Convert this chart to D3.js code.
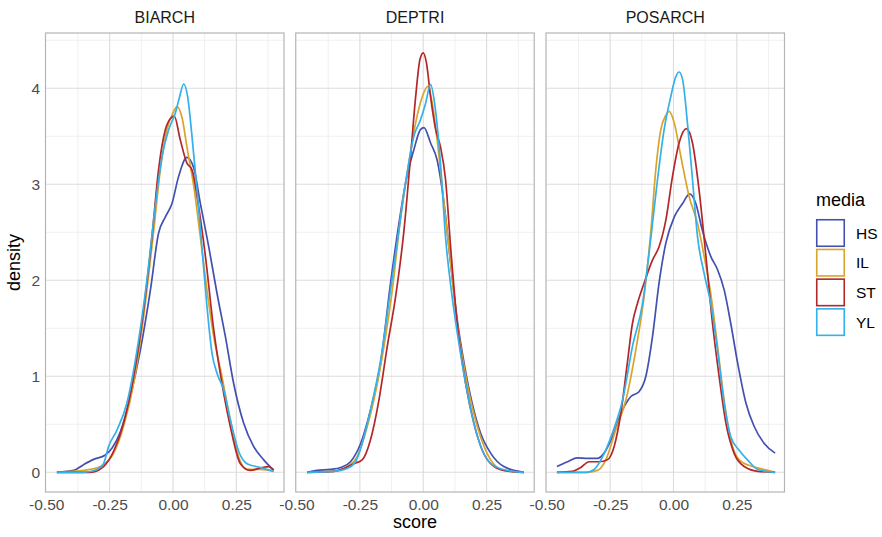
<!DOCTYPE html>
<html>
<head>
<meta charset="utf-8">
<script src="https://cdn.jsdelivr.net/npm/d3@7"></script>
<style>
  body { margin: 0; background: #fff; }
  text { font-family: "Liberation Sans", Arial, sans-serif; }
</style>
</head>
<body>
<div id="chart"></div>
<script>
// ---------- data ----------
var facets = ["BIARCH", "DEPTRI", "POSARCH"];
var media = ["HS", "IL", "ST", "YL"];
var mediaColors = ["#4350B0", "#D9A42A", "#B3262A", "#34B0EA"];
var xTicks = [-0.5, -0.25, 0, 0.25];
var xTickLabels = ["-0.50", "-0.25", "0.00", "0.25"];
var yTicks = [0, 1, 2, 3, 4];

// [score, density]
var biarchHS = [[-0.458,0],[-0.392,0.02],[-0.353,0.08],[-0.313,0.135],[-0.267,0.18],[-0.241,0.25],[-0.208,0.42],[-0.168,0.79],[-0.129,1.27],[-0.089,1.9],[-0.057,2.49],[-0.03,2.66],[-0.004,2.8],[0.022,3.08],[0.055,3.28],[0.082,3.17],[0.108,2.8],[0.141,2.35],[0.174,1.86],[0.207,1.41],[0.239,0.93],[0.279,0.51],[0.318,0.27],[0.358,0.13],[0.397,0.02]];
var biarchIL = [[-0.458,0],[-0.326,0.03],[-0.274,0.08],[-0.234,0.2],[-0.195,0.48],[-0.155,0.93],[-0.116,1.62],[-0.076,2.52],[-0.05,3.15],[-0.024,3.57],[0.003,3.76],[0.016,3.81],[0.036,3.69],[0.055,3.39],[0.082,2.98],[0.108,2.45],[0.134,1.9],[0.161,1.41],[0.193,1.0],[0.226,0.55],[0.259,0.16],[0.292,0.03],[0.345,0.03],[0.397,0.01]];
var biarchST = [[-0.458,0],[-0.326,0],[-0.274,0.06],[-0.234,0.22],[-0.195,0.51],[-0.155,1.0],[-0.116,1.69],[-0.083,2.45],[-0.057,3.15],[-0.03,3.57],[-0.004,3.7],[0.005,3.71],[0.029,3.46],[0.055,3.22],[0.075,3.15],[0.101,2.77],[0.128,2.25],[0.161,1.48],[0.193,0.93],[0.226,0.48],[0.266,0.09],[0.305,0.02],[0.351,0.05],[0.378,0.06],[0.397,0.025]];
var biarchYL = [[-0.458,0],[-0.353,0],[-0.3,0.03],[-0.274,0.09],[-0.254,0.27],[-0.221,0.44],[-0.182,0.72],[-0.142,1.27],[-0.103,2.0],[-0.07,2.77],[-0.043,3.29],[-0.017,3.57],[0.009,3.74],[0.026,3.91],[0.042,4.045],[0.058,3.91],[0.075,3.5],[0.095,2.94],[0.114,2.35],[0.134,1.73],[0.154,1.24],[0.174,1.03],[0.2,0.86],[0.226,0.55],[0.259,0.22],[0.292,0.09],[0.345,0.05],[0.397,0.01]];

var deptriHS = [[-0.458,0],[-0.418,0.02],[-0.366,0.03],[-0.326,0.05],[-0.287,0.11],[-0.247,0.3],[-0.208,0.65],[-0.168,1.14],[-0.129,1.97],[-0.096,2.59],[-0.07,3.01],[-0.037,3.36],[-0.011,3.57],[0.003,3.59],[0.029,3.43],[0.055,3.25],[0.082,2.8],[0.108,2.18],[0.134,1.59],[0.161,1.14],[0.193,0.72],[0.226,0.41],[0.266,0.2],[0.318,0.06],[0.397,0]];
var deptriIL = [[-0.458,0],[-0.353,0.01],[-0.3,0.06],[-0.261,0.16],[-0.228,0.41],[-0.195,0.75],[-0.155,1.31],[-0.122,1.9],[-0.089,2.66],[-0.057,3.22],[-0.03,3.64],[-0.004,3.91],[0.018,4.02],[0.036,3.84],[0.055,3.46],[0.082,2.8],[0.108,2.18],[0.134,1.55],[0.161,1.1],[0.193,0.68],[0.226,0.37],[0.266,0.13],[0.318,0.02],[0.397,0]];
var deptriST = [[-0.458,0],[-0.353,0.01],[-0.313,0.04],[-0.274,0.09],[-0.241,0.13],[-0.208,0.34],[-0.175,0.75],[-0.142,1.31],[-0.109,1.83],[-0.076,2.52],[-0.05,3.29],[-0.03,3.91],[-0.013,4.3],[0.0,4.37],[0.013,4.26],[0.029,3.91],[0.049,3.57],[0.068,3.39],[0.088,3.05],[0.108,2.35],[0.134,1.55],[0.167,0.93],[0.2,0.51],[0.233,0.23],[0.266,0.09],[0.318,0.02],[0.397,0]];
var deptriYL = [[-0.458,0],[-0.353,0.01],[-0.3,0.04],[-0.267,0.11],[-0.241,0.3],[-0.208,0.65],[-0.168,1.17],[-0.129,1.9],[-0.096,2.52],[-0.07,3.01],[-0.037,3.5],[-0.011,3.67],[0.009,3.84],[0.029,4.04],[0.045,3.84],[0.068,3.22],[0.088,2.45],[0.114,1.83],[0.141,1.34],[0.167,0.93],[0.2,0.51],[0.233,0.23],[0.272,0.08],[0.332,0.02],[0.397,0]];

var posarchHS = [[-0.46,0.06],[-0.418,0.11],[-0.379,0.15],[-0.339,0.146],[-0.3,0.146],[-0.274,0.2],[-0.241,0.37],[-0.201,0.65],[-0.168,0.79],[-0.136,0.84],[-0.109,1.0],[-0.083,1.41],[-0.057,1.97],[-0.03,2.39],[0.003,2.66],[0.036,2.8],[0.064,2.9],[0.088,2.8],[0.114,2.52],[0.147,2.25],[0.174,2.11],[0.2,1.9],[0.226,1.55],[0.253,1.14],[0.286,0.72],[0.318,0.48],[0.358,0.3],[0.401,0.2]];
var posarchIL = [[-0.46,0],[-0.346,0],[-0.3,0.02],[-0.267,0.13],[-0.228,0.44],[-0.188,0.75],[-0.149,1.27],[-0.116,1.83],[-0.089,2.52],[-0.07,3.15],[-0.05,3.57],[-0.03,3.72],[-0.017,3.76],[0.003,3.64],[0.029,3.29],[0.062,2.87],[0.095,2.59],[0.121,2.25],[0.147,1.86],[0.174,1.31],[0.2,0.75],[0.226,0.34],[0.259,0.13],[0.312,0.06],[0.364,0.025],[0.401,0]];
var posarchST = [[-0.46,0],[-0.399,0.01],[-0.366,0.05],[-0.333,0.11],[-0.293,0.11],[-0.261,0.13],[-0.234,0.27],[-0.208,0.61],[-0.182,1.14],[-0.162,1.55],[-0.142,1.76],[-0.116,1.97],[-0.083,2.21],[-0.057,2.35],[-0.03,2.63],[-0.004,3.08],[0.022,3.43],[0.051,3.58],[0.075,3.43],[0.101,2.94],[0.128,2.25],[0.154,1.55],[0.18,1.0],[0.207,0.51],[0.239,0.2],[0.279,0.06],[0.332,0.01],[0.401,0]];
var posarchYL = [[-0.46,0],[-0.346,0],[-0.313,0.03],[-0.28,0.16],[-0.241,0.41],[-0.201,0.75],[-0.162,1.31],[-0.122,1.76],[-0.089,2.45],[-0.063,3.05],[-0.037,3.57],[-0.011,3.91],[0.009,4.12],[0.022,4.17],[0.036,4.09],[0.055,3.64],[0.075,3.05],[0.095,2.45],[0.121,2.07],[0.147,1.76],[0.174,1.27],[0.2,0.72],[0.226,0.37],[0.259,0.23],[0.292,0.13],[0.332,0.03],[0.401,0]];

var curves = [
    [biarchHS, biarchIL, biarchST, biarchYL],
    [deptriHS, deptriIL, deptriST, deptriYL],
    [posarchHS, posarchIL, posarchST, posarchYL]
];

// ---------- layout ----------
var width = 882;
var height = 537;
var panelTop = 33;
var panelBottom = 492;
var panelW = 238.5;
var panelLefts = [45.5, 295.75, 546];

var svg = d3.select("#chart")
    .append("svg")
    .attr("width", width)
    .attr("height", height);

var x = d3.scaleLinear().domain([-0.503, 0.438]).range([0, panelW]);
var y = d3.scaleLinear().domain([-0.205, 4.576]).range([panelBottom, panelTop]);

var color = d3.scaleOrdinal().domain(media).range(mediaColors);

var line = d3.line()
    .x(function(d) { return x(d[0]); })
    .y(function(d) { return y(d[1]); })
    .curve(d3.curveMonotoneX);

var xMinor = [-0.375, -0.125, 0.125, 0.375];
var yMinor = [0.5, 1.5, 2.5, 3.5, 4.5];

facets.forEach(function(name, i) {
    var g = svg.append("g")
        .attr("transform", "translate(" + panelLefts[i] + ",0)");

    // minor grid
    g.selectAll(".vminor").data(xMinor).enter().append("line")
        .attr("x1", function(d) { return x(d); })
        .attr("x2", function(d) { return x(d); })
        .attr("y1", panelTop).attr("y2", panelBottom)
        .attr("stroke", "#ececec").attr("stroke-width", 0.8);
    g.selectAll(".hminor").data(yMinor).enter().append("line")
        .attr("x1", 0).attr("x2", panelW)
        .attr("y1", function(d) { return y(d); })
        .attr("y2", function(d) { return y(d); })
        .attr("stroke", "#ececec").attr("stroke-width", 0.8);

    // major grid
    g.selectAll(".vmajor").data(xTicks.filter(function(d) { return x(d) > 1; })).enter().append("line")
        .attr("x1", function(d) { return x(d); })
        .attr("x2", function(d) { return x(d); })
        .attr("y1", panelTop).attr("y2", panelBottom)
        .attr("stroke", "#dcdcdc").attr("stroke-width", 1.1);
    g.selectAll(".hmajor").data(yTicks).enter().append("line")
        .attr("x1", 0).attr("x2", panelW)
        .attr("y1", function(d) { return y(d); })
        .attr("y2", function(d) { return y(d); })
        .attr("stroke", "#dcdcdc").attr("stroke-width", 1.1);

    // density curves
    curves[i].forEach(function(pts, j) {
        g.append("path")
            .datum(pts)
            .attr("d", line)
            .attr("fill", "none")
            .attr("stroke", color(media[j]))
            .attr("stroke-width", 1.7);
    });

    // panel border
    g.append("rect")
        .attr("x", 0).attr("y", panelTop)
        .attr("width", panelW).attr("height", panelBottom - panelTop)
        .attr("fill", "none")
        .attr("stroke", "#b5b5b5").attr("stroke-width", 1.2);

    // strip title
    g.append("text")
        .attr("x", panelW / 2).attr("y", 23)
        .attr("text-anchor", "middle")
        .attr("font-size", 16)
        .attr("fill", "#1a1a1a")
        .text(name);

    // bottom axis
    var xAxis = d3.axisBottom(x).tickValues(xTicks)
        .tickFormat(function(d, k) { return xTickLabels[k]; })
        .tickSize(0).tickPadding(7);
    var ax = g.append("g")
        .attr("transform", "translate(0," + panelBottom + ")")
        .call(xAxis);
    ax.select(".domain").remove();
    ax.selectAll("line").remove();
    ax.selectAll("text")
        .attr("font-size", 15.5)
        .attr("fill", "#4d4d4d");
});

// left axis only on the first panel
var yAxis = d3.axisLeft(y).tickValues(yTicks).tickFormat(d3.format("d"))
    .tickSize(0).tickPadding(5.5);
var ay = svg.append("g")
    .attr("transform", "translate(" + panelLefts[0] + ",0)")
    .call(yAxis);
ay.select(".domain").remove();
ay.selectAll("line").remove();
ay.selectAll("text")
    .attr("font-size", 15.5)
    .attr("fill", "#4d4d4d");

// axis titles
svg.append("text")
    .attr("x", (panelLefts[0] + panelLefts[2] + panelW) / 2)
    .attr("y", 528)
    .attr("text-anchor", "middle")
    .attr("font-size", 18)
    .attr("fill", "#000")
    .text("score");

svg.append("text")
    .attr("transform", "translate(20," + ((panelTop + panelBottom) / 2) + ")rotate(-90)")
    .attr("text-anchor", "middle")
    .attr("font-size", 18)
    .attr("fill", "#000")
    .text("density");

// legend
var legend = svg.append("g").attr("transform", "translate(816,0)");
legend.append("text")
    .attr("x", 0).attr("y", 206)
    .attr("font-size", 18)
    .attr("fill", "#000")
    .text("media");

var keys = legend.selectAll(".key").data(media).enter().append("g")
    .attr("transform", function(d, k) { return "translate(0," + (219 + k * 29.7) + ")"; });
keys.append("rect")
    .attr("x", 0.75).attr("y", 0.75)
    .attr("width", 27.5).attr("height", 26.5)
    .attr("fill", "#fff")
    .attr("stroke", function(d) { return color(d); })
    .attr("stroke-width", 1.6);
keys.append("text")
    .attr("x", 40).attr("y", 14)
    .attr("dy", "0.36em")
    .attr("font-size", 15.5)
    .attr("fill", "#000")
    .text(function(d) { return d; });
</script>
</body>
</html>
